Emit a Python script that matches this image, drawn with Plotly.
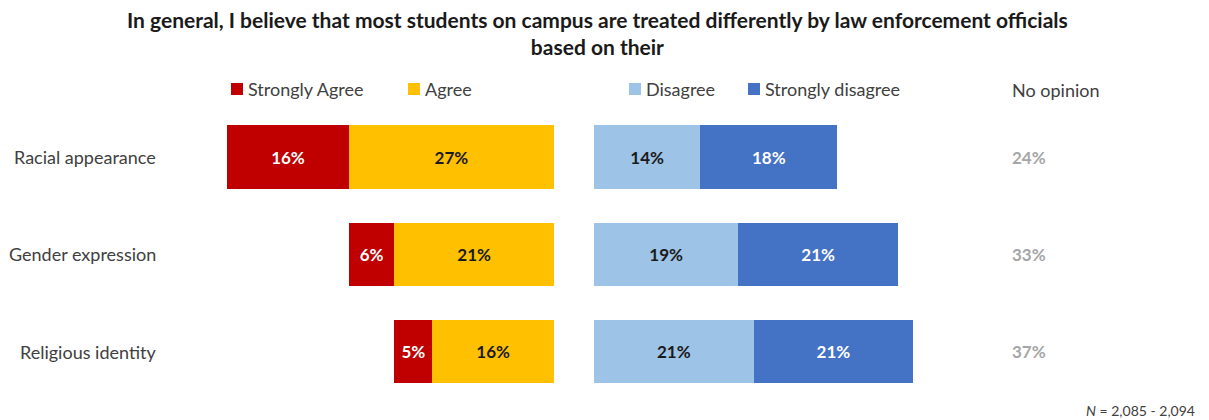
import plotly.graph_objects as go

# Survey items and response shares (%)
categories = ["Racial appearance", "Gender expression", "Religious identity"]
strongly_agree = [16, 6, 5]
agree = [27, 21, 16]
disagree = [14, 19, 21]
strongly_disagree = [18, 21, 21]
no_opinion = [24, 33, 37]

title_text = ("<b>In general, I believe that most students on campus are treated differently "
              "by law enforcement officials<br>based on their</b>")
n_note = "<i>N</i> = 2,085 - 2,094"

W, H = 1209, 420
FONT = "Lato"
PX_PER_PCT = 7.6

C_SA = "#C00000"
C_A = "#FFC000"
C_D = "#9DC3E6"
C_SD = "#4472C4"
TXT = "#404040"

# pixel layout of the two half-panels
left_px = (150, 554)
right_px = (594, 1000)

fig = go.Figure()

def bar(vals, name, color, txtcolor, xaxis):
    return go.Bar(
        y=categories, x=vals, name=name, orientation="h",
        marker=dict(color=color, line=dict(width=0)),
        text=[f"{v}%" for v in vals], textposition="inside",
        insidetextanchor="middle", constraintext="none",
        textfont=dict(family=FONT, size=17, color=txtcolor, weight="bold"),
        width=0.65, xaxis=xaxis, yaxis="y", showlegend=False,
        hoverinfo="skip",
    )

# Agreement side (grows leftwards from the centre gap)
fig.add_trace(bar(agree, "Agree", C_A, "#1a1a1a", "x"))
fig.add_trace(bar(strongly_agree, "Strongly Agree", C_SA, "white", "x"))
# Disagreement side (grows rightwards)
fig.add_trace(bar(disagree, "Disagree", C_D, "#1a1a1a", "x2"))
fig.add_trace(bar(strongly_disagree, "Strongly disagree", C_SD, "white", "x2"))

# y band geometry: centre of first row at 157px, spacing 97.25px
spacing = 97.25
top_px = 157 - spacing / 2
bot_px = top_px + 3 * spacing

fig.update_layout(
    width=W, height=H, autosize=False,
    margin=dict(l=0, r=0, t=0, b=0),
    paper_bgcolor="white", plot_bgcolor="white",
    barmode="stack",
    font=dict(family=FONT, color=TXT),
    xaxis=dict(domain=[left_px[0] / W, left_px[1] / W],
               range=[(left_px[1] - left_px[0]) / PX_PER_PCT, 0],
               visible=False, fixedrange=True),
    xaxis2=dict(domain=[right_px[0] / W, right_px[1] / W],
                range=[0, (right_px[1] - right_px[0]) / PX_PER_PCT],
                anchor="y", visible=False, fixedrange=True),
    yaxis=dict(domain=[(H - bot_px) / H, (H - top_px) / H],
               categoryorder="array", categoryarray=categories,
               range=[2.5, -0.5], visible=False, fixedrange=True),
)

annotations = []
# title
annotations.append(dict(
    text=title_text, xref="paper", yref="paper", x=597 / W, y=1 - 5 / H,
    xanchor="center", yanchor="top", showarrow=False, align="center",
    font=dict(family=FONT, size=21, color="#1a1a1a"),
))
# category labels, right aligned
for c in categories:
    annotations.append(dict(
        text=c, xref="paper", yref="y", x=158 / W, y=c, xanchor="right",
        yanchor="middle", showarrow=False,
        font=dict(family=FONT, size=18, color=TXT),
    ))
# no opinion column
annotations.append(dict(
    text="No opinion", xref="paper", yref="paper", x=1010 / W, y=1 - 90 / H,
    xanchor="left", yanchor="middle", showarrow=False,
    font=dict(family=FONT, size=18, color=TXT),
))
for c, v in zip(categories, no_opinion):
    annotations.append(dict(
        text=f"<b>{v}%</b>", xref="paper", yref="y", x=1010 / W, y=c,
        xanchor="left", yanchor="middle", showarrow=False,
        font=dict(family=FONT, size=17, color="#A6A6A6"),
    ))

# legend entries: swatch + label
legend_items = [("Strongly Agree", C_SA, 231), ("Agree", C_A, 408),
                ("Disagree", C_D, 629), ("Strongly disagree", C_SD, 748)]
shapes = []
leg_y = 89
for name, color, xp in legend_items:
    shapes.append(dict(type="rect", xref="paper", yref="paper",
                       x0=xp / W, x1=(xp + 12) / W,
                       y0=1 - (leg_y + 6) / H, y1=1 - (leg_y - 6) / H,
                       fillcolor=color, line=dict(width=0)))
    annotations.append(dict(
        text=name, xref="paper", yref="paper", x=(xp + 15) / W, y=1 - leg_y / H,
        xanchor="left", yanchor="middle", showarrow=False,
        font=dict(family=FONT, size=18, color=TXT),
    ))

# sample size note
annotations.append(dict(
    text=n_note, xref="paper", yref="paper", x=1197 / W, y=1 - 410 / H,
    xanchor="right", yanchor="middle", showarrow=False,
    font=dict(family=FONT, size=14, color=TXT),
))

fig.update_layout(annotations=annotations, shapes=shapes)
fig.write_html("out.html")
